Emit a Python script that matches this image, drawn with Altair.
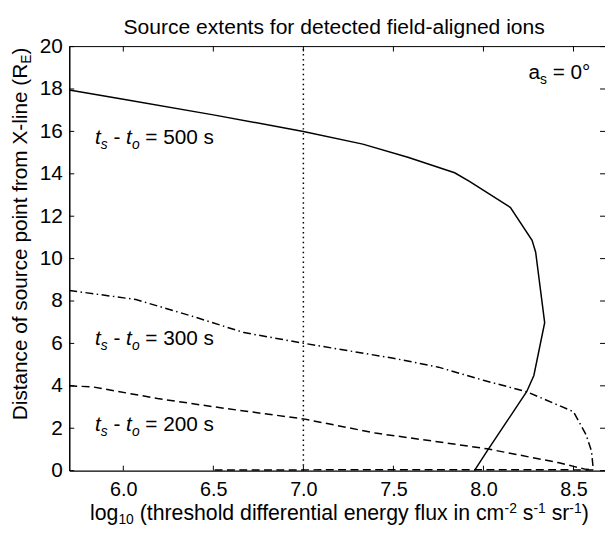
import altair as alt
import pandas as pd

# ---------------- data ----------------
x500 = [5.70, 6.00, 6.50, 7.00, 7.33, 7.58, 7.84, 7.92, 8.15, 8.27, 8.29, 8.34, 8.28, 8.24, 8.13, 8.02, 7.95]
y500 = [17.95, 17.52, 16.78, 16.00, 15.40, 14.78, 14.05, 13.66, 12.41, 10.86, 10.30, 6.98, 4.49, 3.72, 2.32, 0.92, 0.00]

x300 = [5.70, 6.07, 6.38, 6.67, 7.00, 7.50, 7.75, 8.00, 8.24, 8.50, 8.57, 8.60, 8.61]
y300 = [8.50, 8.07, 7.29, 6.51, 6.01, 5.30, 4.88, 4.26, 3.72, 2.78, 1.69, 0.92, 0.05]

x200 = [5.70, 5.83, 6.19, 6.56, 7.00, 7.40, 7.73, 8.02, 8.42, 8.50, 8.57, 8.61, 8.40, 7.50, 6.50]
y200 = [4.00, 3.95, 3.40, 2.94, 2.44, 1.77, 1.38, 1.03, 0.37, 0.20, 0.06, 0.03, 0.04, 0.04, 0.03]

threshold_x = [7.0, 7.0]
threshold_y = [0.0, 20.0]

xticks = [6.0, 6.5, 7.0, 7.5, 8.0, 8.5]
yticks = [0, 2, 4, 6, 8, 10, 12, 14, 16, 18, 20]

labels_dt = ["500", "300", "200"]

# ---------------- layout ----------------
W, H = 542, 429
X0, X1 = 5.7, 8.675
FONT = "Liberation Sans"

def px2x(px):
    return X0 + px / W * (X1 - X0)

def py2y(py):
    return 20 - py / H * 20

# Arial / Liberation Sans advance widths (1/1000 em)
AW = {' ': 278, '(': 333, ')': 333, '-': 333, '.': 278, '=': 584, '°': 400,
      'a': 556, 'b': 556, 'c': 500, 'd': 556, 'e': 556, 'f': 278, 'g': 556, 'h': 556,
      'i': 222, 'j': 222, 'k': 500, 'l': 222, 'm': 833, 'n': 556, 'o': 556, 'p': 556,
      'q': 556, 'r': 333, 's': 500, 't': 278, 'u': 556, 'v': 500, 'w': 722, 'x': 500,
      'y': 500, 'z': 500, 'D': 722, 'E': 667, 'R': 722, 'X': 667, 'S': 667}
for d in "0123456789":
    AW[d] = 556

def tw(s, fs):
    return sum(AW.get(c, 556) for c in s) / 1000.0 * fs

def build(parts, px0, py0, base, small, sub_dy=5, sup_dy=-8):
    rows = []
    cx = px0
    for text, style, kind in parts:
        fs = base if kind == "n" else small
        off = 0 if kind == "n" else (sub_dy if kind == "sub" else sup_dy)
        lead = len(text) - len(text.lstrip())
        rows.append(dict(x=px2x(cx + tw(" " * lead, fs)), y=py2y(py0 + off),
                         t=text.strip(), fs=fs, st=style))
        cx += tw(text, fs)
    return rows

rows = []
ann_pos = [(26, 99), (26, 302), (26, 389)]
for lab, (px, py) in zip(labels_dt, ann_pos):
    rows += build([("t", "i", "n"), ("s", "i", "sub"), (" - ", "n", "n"),
                   ("t", "i", "n"), ("o", "i", "sub"), (" = " + lab + " s", "n", "n")],
                  px, py, 21, 14)
rows += build([("a", "n", "n"), ("s", "n", "sub"), (" = 0°", "n", "n")], 464.5, 33, 21, 14)
rows += build([("log", "n", "n"), ("10", "n", "sub"),
               (" (threshold differential energy flux in cm", "n", "n"), ("-2", "n", "sup"),
               (" s", "n", "n"), ("-1", "n", "sup"), (" sr", "n", "n"), ("-1", "n", "sup"),
               (")", "n", "n")], 21, 479, 21.5, 14, sub_dy=4, sup_dy=-7)
frag = pd.DataFrame(rows)

# rotated y title: reads upward, subscript shifted to the right
yt_main = "Distance of source point from X-line (R"
ypx, ypy = -43, 378
l1 = tw(yt_main, 21)
l2 = tw("E", 14)
ytitle = pd.DataFrame([
    dict(x=px2x(ypx), y=py2y(ypy), t=yt_main, fs=21),
    dict(x=px2x(ypx + 4), y=py2y(ypy - l1), t="E", fs=14),
    dict(x=px2x(ypx), y=py2y(ypy - l1 - l2), t=")", fs=21),
])

title_df = pd.DataFrame([dict(x=px2x(268), y=py2y(-13),
                              t="Source extents for detected field-aligned ions", fs=21.3)])

def curve(xv, yv):
    return pd.DataFrame({"x": xv, "y": yv, "i": list(range(len(xv)))})

xs = alt.Scale(domain=[X0, X1], nice=False, zero=False)
ys = alt.Scale(domain=[0, 20], nice=False, zero=False)
xax = alt.Axis(values=xticks, format=".1f", ticks=False, tickSize=0, grid=False, title=None,
               domainColor="black", domainWidth=1.5, labelFont=FONT, labelFontSize=20,
               labelColor="black", labelPadding=9, labelOverlap=False, labelFlush=False)
yax = alt.Axis(values=yticks, format="d", ticks=False, tickSize=0, grid=False, title=None,
               domainColor="black", domainWidth=1.5, labelFont=FONT, labelFontSize=21,
               labelColor="black", labelPadding=7, labelOverlap=False, labelFlush=False)

X = alt.X("x:Q", scale=xs, axis=xax)
Y = alt.Y("y:Q", scale=ys, axis=yax)

def line(df, dash):
    kw = dict(color="black", strokeWidth=1.5)
    if dash:
        kw["strokeDash"] = dash
    return alt.Chart(df).mark_line(**kw).encode(x=X, y=Y, order="i:Q")

layers = [
    line(curve(threshold_x, threshold_y), [1.5, 3.5]),
    line(curve(x200, y200), [8, 4.5]),
    line(curve(x300, y300), [8, 3.5, 1.5, 3.5]),
    line(curve(x500, y500), None),
]

xt = pd.DataFrame({"x": xticks})
yt = pd.DataFrame({"y": yticks})
tick = dict(color="black", strokeWidth=1)
layers += [
    alt.Chart(xt).mark_rule(**tick).encode(x=X, y=alt.value(H), y2=alt.value(H - 5)),
    alt.Chart(xt).mark_rule(**tick).encode(x=X, y=alt.value(0), y2=alt.value(5)),
    alt.Chart(yt).mark_rule(**tick).encode(y=Y, x=alt.value(0), x2=alt.value(5)),
    alt.Chart(yt).mark_rule(**tick).encode(y=Y, x=alt.value(W), x2=alt.value(W - 5)),
    alt.Chart(xt.head(1)).mark_rule(color="black", strokeWidth=1).encode(
        x=alt.value(0), x2=alt.value(W), y=alt.value(0)),
]

def texts(df, **kw):
    return alt.Chart(df).mark_text(font=FONT, color="black", baseline="alphabetic", **kw).encode(
        x=X, y=Y, text="t:N", size=alt.Size("fs:Q", scale=None, legend=None))

layers += [
    texts(frag[frag.st == "n"], align="left", fontStyle="normal"),
    texts(frag[frag.st == "i"], align="left", fontStyle="italic"),
    texts(ytitle, align="left", angle=270),
    texts(title_df, align="center"),
]

chart = alt.layer(*layers).properties(
    width=W, height=H,
    padding={"left": 62, "top": 36, "right": 0, "bottom": 55},
    autosize=alt.AutoSizeParams(type="none"),
).configure_view(stroke=None)

chart.save("out.html", embed_options={"renderer": "svg", "actions": False})
